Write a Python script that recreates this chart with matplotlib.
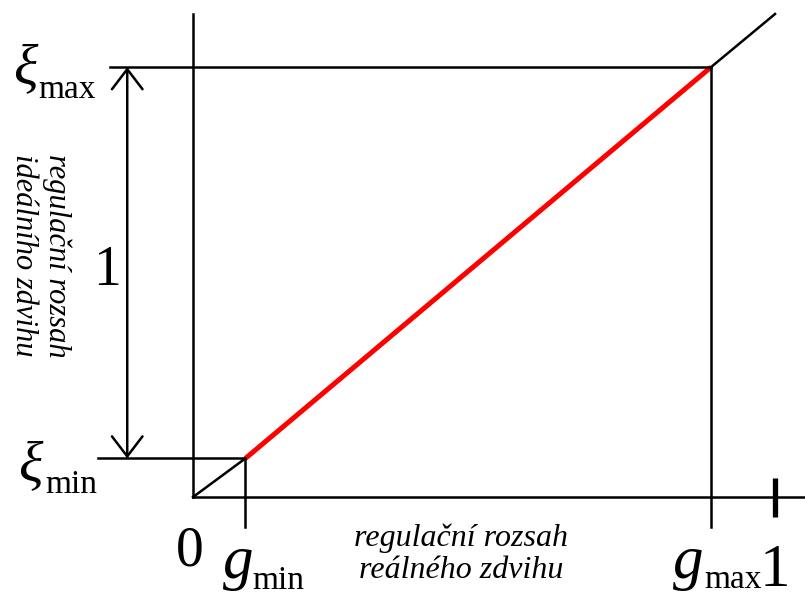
import numpy as np
import matplotlib.pyplot as plt

## **DATA** (normalised real stroke g vs. ideal stroke xi)
g_min = 0.09   # lower limit of real stroke
g_max = 0.89   # upper limit of real stroke
xi_min = 0.08  # lower limit of ideal stroke
xi_max = 0.89  # upper limit of ideal stroke
g_end = 1.0    # end of the characteristic line

# labels
lbl_real = 'regulační rozsah\nreálného zdvihu'
lbl_ideal = 'regulační rozsah\nideálního zdvihu'

plt.rcParams['font.family'] = ['Liberation Serif', 'DejaVu Serif']

fig = plt.figure(figsize=(8.05, 5.99), dpi=100)
ax = fig.add_axes([0, 0, 1, 1])
ax.set_xlim(-0.3316, 1.0515)
ax.set_ylim(-0.211, 1.029)
ax.axis('off')

lw = 1.8
k = 'black'

# axes
ax.plot([0, 0], [0, g_end], color=k, lw=lw)
ax.plot([0, 1.0515], [0, 0], color=k, lw=lw)
ax.plot([g_end, g_end], [-0.041, 0.039], color=k, lw=3.8, solid_capstyle='butt')

# characteristic: black outside the range, red inside
ax.plot([0, g_min], [0, xi_min], color=k, lw=lw)
ax.plot([g_max, g_end], [xi_max, g_end], color=k, lw=lw)
ax.plot([g_min, g_max], [xi_min, xi_max], color='#ff0000', lw=3.6, solid_capstyle='butt')

# limit lines
ax.plot([-0.143, g_max], [xi_max, xi_max], color=k, lw=lw)
ax.plot([-0.163, g_min], [xi_min, xi_min], color=k, lw=lw)
ax.plot([g_min, g_min], [-0.062, xi_min], color=k, lw=lw)
ax.plot([g_max, g_max], [-0.062, xi_max], color=k, lw=lw)

# double arrow for the ideal range
ax.annotate('', xy=(-0.113, xi_max), xytext=(-0.113, xi_min),
            arrowprops=dict(arrowstyle='<->, head_length=0.72, head_width=0.55',
                            color=k, lw=lw, shrinkA=0, shrinkB=0, mutation_scale=20))


def lab(txt, anchor, dx, dy, size, ha='left', **kw):
    # dx, dy in pixels from the anchor point (dy positive = downwards)
    ax.annotate(txt, xy=anchor, xytext=(dx, -dy), textcoords='offset pixels',
                fontsize=size, ha=ha, va='baseline', **kw)


# xi labels
lab('ξ', (0, xi_max), -180, 17, 41, style='italic')
lab('max', (0, xi_max), -155, 31, 24)
lab('ξ', (0, xi_min), -175, 23, 41, style='italic')
lab('min', (0, xi_min), -148, 35, 24)
lab('1', (0, 0), -86, -212, 40, ha='center')

# g labels
lab('0', (0, 0), -3, 68, 40, ha='center')
lab('g', (g_min, 0), -22, 81, 44, style='italic')
lab('min', (g_min, 0), 7, 92, 24)
lab('g', (g_max, 0), -38, 81, 44, style='italic')
lab('max', (g_max, 0), -7, 91, 24)
lab('1', (g_end, 0), 0, 89, 44, ha='center')

# italic range descriptions
ax.text(0.46, -0.118, lbl_real, fontsize=23, style='italic',
        ha='center', va='center', linespacing=1.15)
ax.text(-0.262, 0.50, lbl_ideal, fontsize=22, style='italic',
        ha='center', va='center', rotation=-90, linespacing=1.2)

plt.savefig('out.png', dpi=100)
